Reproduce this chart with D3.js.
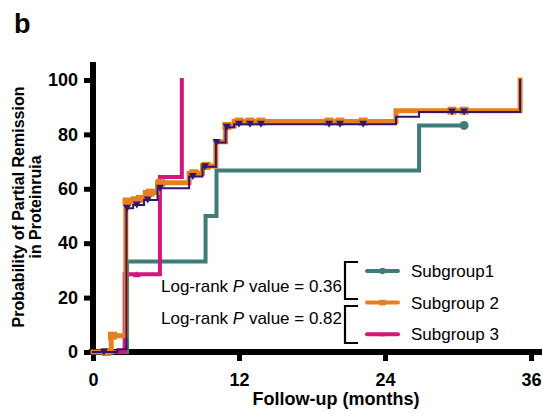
<!DOCTYPE html>
<html><head><meta charset="utf-8">
<script src="https://cdn.jsdelivr.net/npm/d3@7"></script>
<style>
html,body{margin:0;padding:0;background:#fff;}
svg{display:block;font-family:"Liberation Sans",Arial,sans-serif;}
</style></head>
<body><svg id="c" width="542" height="414"></svg>
<script>
// ---- data (months, % in partial remission) ----
const seriesNames = ["Subgroup1", "Subgroup 2", "Subgroup 3", ""];
const seriesColors = ["#3f7b79", "#e5801f", "#d3167b", "#34156e"];
// step points [time, value after step]
const sub1Steps = [[0,0],[2.8,33.3],[9.25,50],[10.15,66.7],[26.8,83.3],[30.5,83.3]];
const sub1Censor = [[30.5,83.3]];
const sub2Steps = [[0,0],[1.5,6],[2.7,55.3],[3.3,56.3],[4.3,58.6],[5.3,62.2],[7.9,65.7],[9.0,68.4],[10.1,77.3],[10.9,83.1],[11.6,84.7],[24.9,88.7],[35.1,100]];
const sub2Censor = [[1.1,0],[1.6,6],[2.8,55.3],[3.9,56.3],[4.7,58.6],[5.55,62.2],[8.3,65.7],[9.3,68.4],[11.0,83.1],[12.0,84.7],[12.9,84.7],[13.8,84.7],[19.4,84.7],[20.3,84.7],[22.2,84.7],[29.5,88.7],[30.5,88.7]];
const sub3Steps = [[0,0],[2.6,28.6],[5.5,64.3],[7.3,100]];
const sub3Censor = [[3.6,28.6]];
const allSteps = [[0,0],[2.0,1],[2.75,52.8],[3.3,54.0],[4.2,55.9],[5.3,60.2],[7.9,64.5],[9.0,68.1],[10.1,77.0],[10.9,82.6],[11.6,83.7],[24.9,86.5],[26.8,88.2],[35.1,100]];
const allCensor = [[0.9,0],[2.8,52.8],[3.6,54.0],[4.5,55.9],[5.5,60.2],[8.2,64.5],[9.2,68.1],[10.15,77.0],[11.0,82.6],[12.0,83.7],[12.9,83.7],[13.8,83.7],[19.4,83.7],[20.3,83.7],[22.2,83.7],[29.5,88.2],[30.5,88.2]];
const xTicks = [0, 12, 24, 36];
const yTicks = [0, 20, 40, 60, 80, 100];
const pTexts = ["Log-rank ", "P", " value = 0.36", " value = 0.82"];
const pValues = ["0.36", "0.82"];

const svg = d3.select("#c");
const x = d3.scaleLinear().domain([0, 36.9]).range([93, 542]);
const y = d3.scaleLinear().domain([0, 106.6]).range([352, 62]);

// panel letter
svg.append("text").attr("x", 14).attr("y", 33).attr("font-size", 27).attr("font-weight", "bold").text("b");

// axes
const gx = svg.append("g").attr("transform", "translate(0,352)")
  .call(d3.axisBottom(x).tickValues(xTicks).tickSize(9).tickSizeOuter(0).tickPadding(12));
const gy = svg.append("g").attr("transform", "translate(93,0)")
  .call(d3.axisLeft(y).tickValues(yTicks).tickSize(9).tickSizeOuter(0).tickPadding(6));
[gx, gy].forEach(g => {
  g.select(".domain").attr("stroke", "#000").attr("stroke-width", 6);
  g.selectAll(".tick line").attr("stroke", "#000").attr("stroke-width", 5);
  g.selectAll(".tick text").attr("font-size", 18).attr("font-weight", "bold")
    .attr("fill", "#000").attr("font-family", "Liberation Sans, Arial, sans-serif");
});
gx.select(".domain").attr("d", "M89,0H542");
gy.select(".domain").attr("d", "M0,355V62");

// axis titles
svg.append("text").attr("x", 336).attr("y", 405).attr("text-anchor", "middle")
  .attr("font-size", 18).attr("font-weight", "bold").text("Follow-up (months)");
const yt = svg.append("text").attr("transform", "translate(0,207) rotate(-90)")
  .attr("text-anchor", "middle").attr("font-size", 16).attr("font-weight", "bold");
yt.append("tspan").attr("x", 0).attr("y", 24).text("Probability of Partial Remission");
yt.append("tspan").attr("x", 0).attr("y", 41).text("in Proteinruia");

// curves
const line = d3.line().x(d => x(d[0])).y(d => y(d[1])).curve(d3.curveStepAfter);
const curves = [
  {steps: sub1Steps, censor: sub1Censor, color: seriesColors[0], w: 4, marker: "circle"},
  {steps: sub3Steps, censor: sub3Censor, color: seriesColors[2], w: 4, marker: "triUp"},
  {steps: sub2Steps, censor: sub2Censor, color: seriesColors[1], w: 5, marker: "square"},
  {steps: allSteps, censor: allCensor, color: seriesColors[3], w: 2, marker: "triDown"}
];
function marker(g, type, cx, cy, color, scale) {
  const s = scale || 1;
  if (type === "circle") g.append("circle").attr("cx", cx).attr("cy", cy).attr("r", 4.5 * s).attr("fill", color);
  else if (type === "square") g.append("rect").attr("x", cx - 4.5 * s).attr("y", cy - 4 * s).attr("width", 9 * s).attr("height", 8 * s).attr("fill", color);
  else if (type === "triDown") g.append("path").attr("d", `M${cx-4*s},${cy-3.5*s}L${cx+4*s},${cy-3.5*s}L${cx},${cy+3.5*s}Z`).attr("fill", color);
  else if (type === "triUp") g.append("path").attr("d", `M${cx-4*s},${cy+3*s}L${cx+4*s},${cy+3*s}L${cx},${cy-3*s}Z`).attr("fill", color);
}
curves.forEach(c => {
  const g = svg.append("g");
  g.append("path").attr("d", line(c.steps)).attr("fill", "none").attr("stroke", c.color)
    .attr("stroke-width", c.w).attr("stroke-linejoin", "miter").attr("stroke-linecap", "square");
  c.censor.forEach(p => marker(g, c.marker, x(p[0]), y(p[1]), c.color));
});

// p-value annotations
[0, 1].forEach(i => {
  const t = svg.append("text").attr("x", 342).attr("y", 292 + i * 31.5).attr("text-anchor", "end")
    .attr("font-size", 17).attr("fill", "#000");
  t.append("tspan").text(pTexts[0]);
  t.append("tspan").attr("font-style", "italic").text(pTexts[1]);
  t.append("tspan").text(" value = " + pValues[i]);
});
// brackets
[[262, 299], [306, 343]].forEach(b => {
  svg.append("path").attr("d", `M358,${b[0]}H345V${b[1]}H358`).attr("fill", "none")
    .attr("stroke", "#000").attr("stroke-width", 2.2);
});

// legend
const legendMarkers = ["circle", "square", "triUp"];
[0, 1, 2].forEach(i => {
  const ly = 271 + i * 31.6;
  svg.append("line").attr("x1", 367).attr("x2", 398).attr("y1", ly).attr("y2", ly)
    .attr("stroke", seriesColors[i]).attr("stroke-width", 4).attr("stroke-linecap", "round");
  marker(svg, legendMarkers[i], 382.5, ly, seriesColors[i], 0.7);
  svg.append("text").attr("x", 411).attr("y", ly + 6).attr("font-size", 17).attr("fill", "#000").text(seriesNames[i]);
});
</script></body></html>
